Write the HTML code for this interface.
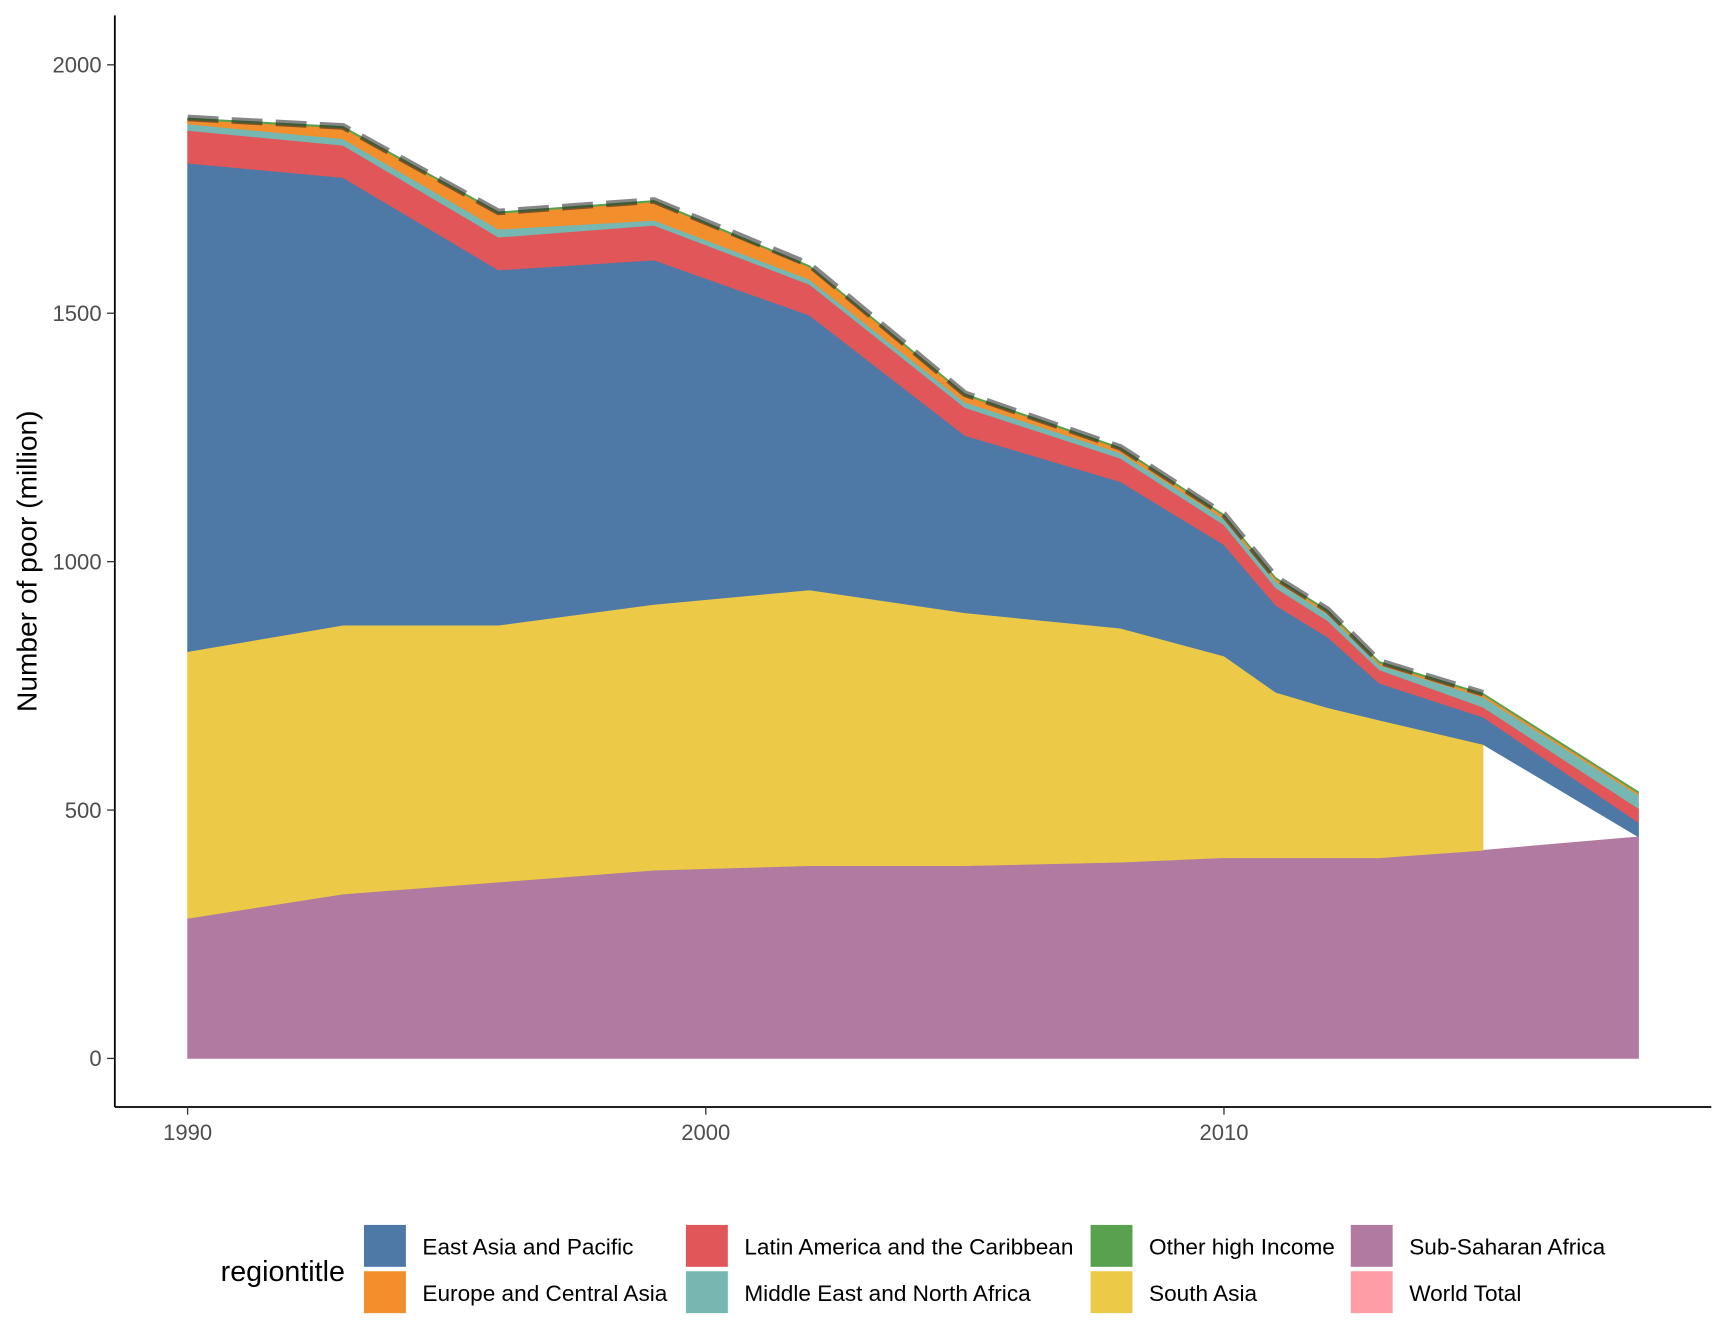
<!DOCTYPE html>
<html><head><meta charset="utf-8"><style>html,body{margin:0;padding:0;background:#fff}svg{display:block}text{font-family:"Liberation Sans",Arial,sans-serif}</style></head>
<body>
<svg id="chart" width="1728" height="1344" viewBox="0 0 1567 1219" xmlns="http://www.w3.org/2000/svg">
<g id="areas"></g>
<g id="axes">
<line x1="104" y1="14" x2="104" y2="1004" stroke="#000" stroke-width="1.6"/>
<line x1="104" y1="1004" x2="1552" y2="1004" stroke="#000" stroke-width="1.6"/>
</g>
<text transform="translate(33,509) rotate(-90)" text-anchor="middle" font-size="25.5" fill="#000">Number of poor (million)</text>
<g>
<text x="200" y="1162" font-size="26" fill="#000">regiontitle</text>
<g id="legend-items"></g>
</g>
</svg>
<script>
const years=[1990,1993,1996,1999,2002,2005,2008,2010,2011,2012,2013,2015,2018];
const ssa=[282,331,355,379,388,388,395,404,404,404,404,419,446];
const sa=[537,541,517,535,555,509,471,406,333,302,277,213,null];
const eap=[983,901,715,693,553,357,295,224,175,142,74,55,29];
const lac=[66,65,66,70,62,56,47,40,35,33,27,20,28];
const mena=[13,13,16,10,10,11,11,12,13,14,10,20,27];
const eca=[9,22,32,37,25,14,8,6,5,5,4,5,4];
const ohi=[3,3,3,3,3,3,3,3,3,3,3,3,3];
const worldTotal=[1893,1876,1704,1727,1598,1338,1230,1095,968,903,799,735,null];
const xTicks=[1990,2000,2010];
const yTicks=[0,500,1000,1500,2000];

const NS="http://www.w3.org/2000/svg";
const X=y=>170+(y-1990)*47;
const Y=v=>960-v*0.4506;
const series=[["sub-saharan-africa",ssa,"#B07AA1"],["south-asia",sa,"#EDC948"],["east-asia-pacific",eap,"#4E79A7"],["latin-america-caribbean",lac,"#E15759"],["middle-east-north-africa",mena,"#76B7B2"],["europe-central-asia",eca,"#F28E2B"],["other-high-income",ohi,"#59A14F"]];
const ag=document.getElementById('areas');
let base=years.map(()=>0);
series.forEach(([n,vals,c])=>{
  const top=base.map((b,i)=>b+(vals[i]==null?0:vals[i]));
  const idx=years.map((y,i)=>i).filter(i=>vals[i]!=null);
  let d="M"+idx.map(i=>X(years[i])+","+Y(top[i])).join("L");
  for(let k=idx.length-1;k>=0;k--){const i=idx[k];d+="L"+X(years[i])+","+Y(base[i]);}
  d+="Z";
  const p=document.createElementNS(NS,"path");
  
  
  p.setAttribute("d",d);p.setAttribute("fill",c);
  p.setAttribute("stroke",c);p.setAttribute("stroke-width","0.6");
  ag.appendChild(p);
  base=top;
});
let wd="";years.forEach((y,i)=>{if(worldTotal[i]!=null)wd+=(wd?"L":"M")+X(y)+","+Y(worldTotal[i]);});
const wl=document.createElementNS(NS,"path");


wl.setAttribute("d",wd);wl.setAttribute("fill","none");wl.setAttribute("stroke","#222");
wl.setAttribute("stroke-opacity","0.55");wl.setAttribute("stroke-width","6");wl.setAttribute("stroke-dasharray","28 12");
ag.appendChild(wl);
const ax=document.getElementById('axes');
yTicks.forEach(v=>{
  const l=document.createElementNS(NS,"line");
  
  
  l.setAttribute("x1",97);l.setAttribute("x2",104);l.setAttribute("y1",Y(v));l.setAttribute("y2",Y(v));l.setAttribute("stroke","#333");l.setAttribute("stroke-width","1.2");
  ax.appendChild(l);
  const t=document.createElementNS(NS,"text");
  
  
  t.setAttribute("x",92);t.setAttribute("y",Y(v)+7);t.setAttribute("text-anchor","end");t.setAttribute("font-size","20");t.setAttribute("fill","#4d4d4d");
  t.textContent=v;ax.appendChild(t);
});
xTicks.forEach(v=>{
  const l=document.createElementNS(NS,"line");
  
  
  l.setAttribute("x1",X(v));l.setAttribute("x2",X(v));l.setAttribute("y1",1004);l.setAttribute("y2",1011);l.setAttribute("stroke","#333");l.setAttribute("stroke-width","1.2");
  ax.appendChild(l);
  const t=document.createElementNS(NS,"text");
  
  
  t.setAttribute("x",X(v));t.setAttribute("y",1034);t.setAttribute("text-anchor","middle");t.setAttribute("font-size","20");t.setAttribute("fill","#4d4d4d");
  t.textContent=v;ax.appendChild(t);
});
const legendNames=["East Asia and Pacific","Europe and Central Asia","Latin America and the Caribbean","Middle East and North Africa","Other high Income","South Asia","Sub-Saharan Africa","World Total"];
const legendColors=["#4E79A7","#F28E2B","#E15759","#76B7B2","#59A14F","#EDC948","#B07AA1","#FF9DA7"];
const colX=[330,622,989,1225];
const lg=document.getElementById('legend-items');
legendNames.forEach((n,i)=>{
  const c=Math.floor(i/2),r=i%2;
  const ky=1111+r*42;
  const rc=document.createElementNS(NS,"rect");
  
  
  rc.setAttribute("x",colX[c]);rc.setAttribute("y",ky);rc.setAttribute("width",38);rc.setAttribute("height",38);rc.setAttribute("fill",legendColors[i]);
  lg.appendChild(rc);
  const t=document.createElementNS(NS,"text");
  
  
  t.setAttribute("x",colX[c]+53);t.setAttribute("y",ky+27);t.setAttribute("font-size","20.5");t.setAttribute("fill","#000");
  t.textContent=n;lg.appendChild(t);
});
</script>
</body></html>
